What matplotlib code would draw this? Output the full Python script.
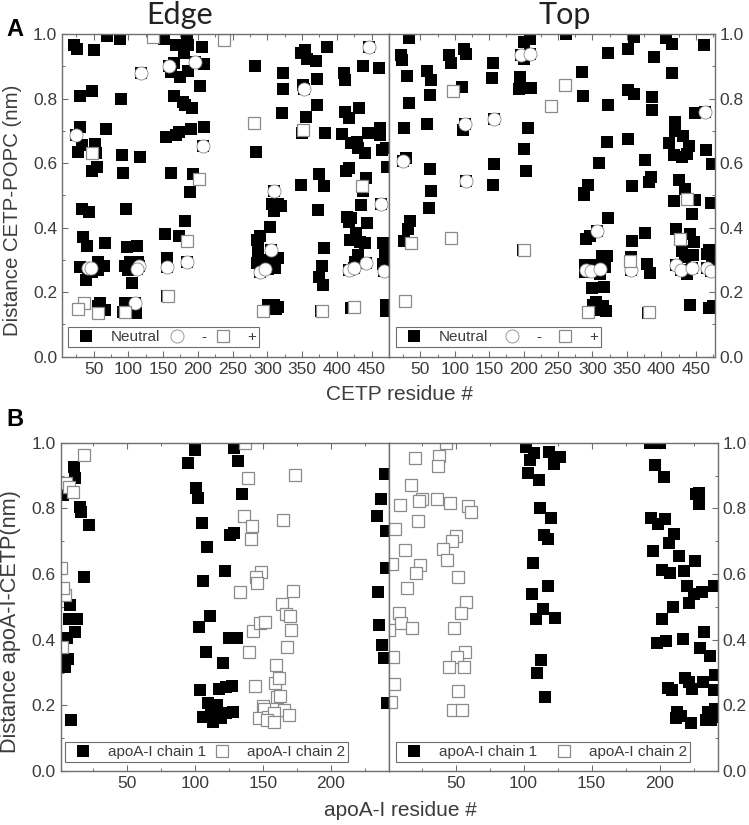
import matplotlib
matplotlib.use('Agg')
import matplotlib.pyplot as plt
from matplotlib.ticker import MultipleLocator, FixedLocator

plt.rcParams['font.family'] = ['Liberation Sans', 'DejaVu Sans']

W, H = 749, 825

# panel A, edge
edge_neutral_x = [22, 26, 51, 69, 88, 151, 168, 184, 186, 180, 206, 209, 165, 162, 174, 186, 203, 166, 178, 181, 192, 190, 209, 173, 169, 154, 161, 193, 189, 181, 173, 153, 156, 155,
                  30, 48, 89, 30, 68, 33, 28, 52, 53, 91, 117, 55, 48, 92, 33, 43, 96, 35, 41, 67, 98, 112, 30, 39, 47, 57, 65, 57, 95, 102, 114, 100, 105, 95, 111, 59, 66, 57,
                  282, 322, 322, 321, 284, 354, 348, 357, 370, 372, 386, 351, 371, 356, 383, 407, 410, 412, 437, 460, 411, 417, 432, 445, 462, 462, 420, 429, 431, 441, 465, 471, 472, 417, 413, 442, 438, 349, 374, 382, 373, 434, 444, 414, 421, 417,
                  428, 419, 433, 441, 467, 469, 469, 466, 431, 426, 381, 379, 375, 380, 420, 377, 471, 471,
                  290, 285, 304, 286, 287, 285, 299, 309, 316, 311, 301, 289, 306, 319, 310, 316, 301, 309, 316, 306, 312, 350, 438, 92]
edge_neutral_y = [.966, .952, .95, .994, .983, .983, .966, .987, .966, .94, .959, .906, .909, .883, .868, .886, .839, .809, .79, .78, .77, .705, .711, .697, .687, .68, .57, .565, .509, .421, .374, .38, .307, .189,
                  .808, .824, .80, .713, .707, .656, .634, .659, .63, .626, .62, .587, .575, .57, .457, .448, .459, .37, .343, .351, .341, .343, .277, .238, .263, .294, .282, .269, .282, .294, .294, .269, .229, .167, .136, .165, .145, .157,
                  .90, .878, .829, .754, .633, .95, .94, .921, .917, .862, .961, .842, .779, .744, .692, .689, .88, .857, .902, .894, .758, .739, .771, .692, .708, .687, .661, .666, .646, .632, .64, .646, .589, .586, .575, .555, .522, .532, .565, .529, .455, .471, .413, .434, .429, .418,
                  .382, .362, .356, .351, .351, .331, .31, .286, .315, .294, .336, .282, .246, .222, .15, .142, .16, .143,
                  .374, .362, .403, .336, .31, .289, .30, .289, .305, .274, .271, .269, .473, .467, .452, .473, .16, .16, .155, .15, .147, .693, .515, .139]
edge_neg_x = [25, 118, 159, 196, 208, 446, 353, 309, 464, 305, 185, 156, 42, 46, 116, 113, 109, 289, 296, 418, 425, 442, 468]
edge_neg_y = [.687, .88, .902, .912, .654, .961, .829, .513, .474, .331, .295, .279, .275, .276, .281, .271, .167, .263, .271, .269, .276, .289, .265]
edge_pos_x = [136, 238, 281, 351, 47, 201, 436, 185, 157, 36, 28, 56, 95, 293, 378, 424]
edge_pos_y = [.99, .981, .725, .702, .632, .55, .529, .358, .188, .165, .149, .134, .139, .142, .142, .153]

# panel A, top
top_neutral_x = [34, 22, 24, 30, 33, 26, 29, 60, 66, 64, 60, 64, 65, 62, 35, 32, 26,
                 91, 94, 113, 116, 111, 112, 155, 154, 157, 155, 199,
                 200, 209, 200, 195, 194, 211, 206, 201, 204,
                 262, 285, 286, 323, 351, 360, 389, 407, 415, 462, 415, 351, 360, 386, 387, 323, 449, 420, 420, 432, 411, 440, 321, 352, 465, 309, 377, 418, 430, 437, 474, 385, 382, 425, 358, 293, 288, 288, 435, 418, 449, 472, 444, 322, 377, 421, 357, 297, 290, 441, 447, 430, 435, 446, 438, 469, 466, 474, 379, 383, 314, 321, 316, 289, 301, 318, 289, 311, 300, 317, 305, 301, 309, 316, 320, 311, 356, 380, 442, 469, 475]
top_neutral_y = [.989, .935, .919, .871, .785, .71, .617, .885, .857, .812, .72, .581, .512, .461, .419, .396, .36,
                 .935, .909, .955, .938, .836, .702, .909, .865, .596, .531, .331,
                 .976, .983, .921, .867, .831, .834, .709, .645, .576,
                 1.0, .881, .807, .94, .955, .992, .93, .987, .969, .966, .878, .828, .813, .806, .763, .78, .756, .728, .699, .683, .663, .652, .664, .675, .64, .601, .611, .626, .619, .629, .596, .557, .541, .547, .528, .531, .5, .507, .52, .484, .487, .477, .443, .431, .384, .396, .36, .373, .364, .381, .355, .327, .308, .314, .257, .331, .317, .303, .288, .26, .311, .312, .293, .283, .283, .277, .262, .257, .212, .215, .171, .161, .151, .158, .141, .145, .308, .136, .159, .151, .156]
top_neg_x = [25, 115, 116, 157, 196, 209, 307, 290, 298, 311, 356, 422, 429, 445, 467, 472, 463]
top_neg_y = [.606, .72, .546, .738, .935, .937, .391, .269, .265, .271, .27, .283, .269, .274, .274, .267, .757]
top_pos_x = [28, 36, 94, 98, 240, 260, 201, 294, 354, 382, 427, 438]
top_pos_y = [.174, .353, .369, .823, .776, .842, .331, .137, .297, .137, .365, .488]

# panel B, edge
b_edge_ch1_x = [11, 12, 3, 15, 16, 22, 18, 8, 7, 13, 12, 6, 6.5, 4, 9,
                95, 100, 129, 132, 101, 102, 135, 105, 129, 126, 109, 122, 106, 111, 103, 125, 131, 108, 121, 104, 118, 123, 127, 110, 116, 106, 113, 112, 119.5, 123, 128, 116,
                240, 237, 234, 241, 241, 235, 236, 238, 239, 241.5]
b_edge_ch1_y = [.927, .893, .84, .805, .79, .749, .59, .506, .463, .463, .424, .404, .341, .316, .155,
                .937, .978, .983, .945, .861, .832, .843, .754, .724, .719, .682, .61, .579, .473, .438, .406, .404, .363, .33, .247, .25, .256, .259, .206, .201, .165, .15, .181, .16, .176, .179, .17,
                .905, .827, .777, .731, .617, .544, .444, .384, .343, .206]
b_edge_ch2_x = [18, 5, 7, 10, 1, 4.5, 3, 2, 139, 174, 136, 142, 141, 165, 149, 145, 146, 133, 172, 164, 167, 170, 171, 143, 148, 152, 168, 140, 160, 144, 159, 162, 160.5, 163, 150, 151, 166, 169, 147, 154, 158, 153, 158, 137]
b_edge_ch2_y = [.964, .876, .866, .851, .617, .536, .556, .379, .891, .901, .778, .745, .706, .766, .607, .591, .572, .545, .548, .508, .477, .473, .428, .427, .45, .453, .379, .362, .323, .26, .267, .282, .226, .228, .198, .189, .186, .171, .16, .165, .176, .155, .15, .998]

# panel B, top
b_top_ch1_x = [102, 108, 119, 127, 122, 105, 103, 111, 112, 120, 115, 118, 107, 118, 106, 114, 109, 123, 113, 110, 116,
               193, 200, 197, 203, 227, 229, 229, 194, 199, 204, 211, 207, 195, 214, 226, 202, 208, 218, 220.5, 231, 225, 240, 221.5, 210, 202, 198, 205, 217, 233, 230, 237, 219, 222, 224, 232, 241, 240, 206, 209.5, 213, 216, 212, 223, 234, 236, 238, 241, 241]
b_top_ch1_y = [.988, .97, .973, .956, .935, .947, .907, .887, .8, .772, .719, .707, .635, .562, .539, .493, .464, .466, .338, .3, .226,
               1.0, 1.0, .931, .894, .844, .848, .813, .772, .752, .767, .721, .696, .671, .655, .641, .611, .604, .609, .562, .544, .539, .564, .512, .5, .464, .391, .396, .401, .422, .376, .351, .284, .272, .25, .272, .292, .247, .252, .247, .179, .169, .162, .145, .155, .181, .155, .189, .165]
b_top_ch2_x = [20, 38, 37, 43, 17, 25, 23, 9, 36, 46, 59, 61, 22, 5.5, 50, 47, 41, 13, 44, 3, 24, 21, 52, 14, 58, 54, 8, 10, 18, 49, 1, 57, 51, 4, 45, 56, 5, 52, 2.5, 48, 55]
b_top_ch2_y = [.952, .958, .929, 1.0, .871, .829, .821, .809, .827, .815, .808, .789, .76, .736, .717, .7, .676, .672, .642, .632, .626, .604, .591, .558, .516, .481, .481, .45, .437, .437, .428, .363, .348, .348, .318, .318, .266, .245, .211, .187, .187]

ink = '#3c3c3c'
frame = '#6e6e6e'
SQ = 8.6


def make_ax(fig, left, right, top, bottom):
    return fig.add_axes([left/W, 1-bottom/H, (right-left)/W, (bottom-top)/H])


def style_ax(ax, xlim, xmaj, xlast, side):
    ax.set_xlim(*xlim)
    ax.set_ylim(0, 1)
    ax.xaxis.set_major_locator(FixedLocator(list(range(xmaj, xlast+1, xmaj))))
    ax.xaxis.set_minor_locator(MultipleLocator(xmaj/2))
    ax.yaxis.set_major_locator(MultipleLocator(0.2))
    ax.yaxis.set_minor_locator(MultipleLocator(0.1))
    ax.tick_params(which='major', direction='in', length=4, width=0.8, color=frame,
                   labelsize=12.5, labelcolor=ink, top=True, pad=3.5)
    ax.tick_params(which='minor', direction='in', length=2.5, width=0.7, color=frame, top=True)
    ax.tick_params(axis='y', which='both', left=(side == 'left'), right=(side == 'right'),
                   labelleft=(side == 'left'), labelright=(side == 'right'))
    for s in ax.spines.values():
        s.set_color(frame)
        s.set_linewidth(1.0)


def draw_charge(ax, nx_, ny_, negx, negy, posx, posy, box):
    ax.plot(nx_, ny_, 's', color='black', ms=SQ, mew=0, label='Neutral')
    # charged residues sit on top of a black square, only the corners show
    ax.plot(negx, negy, 's', color='black', ms=SQ-0.4, mew=0)
    ax.plot(negx, negy, 'o', mfc='white', mec='#8a8a8a', mew=0.6, ms=9.4, label='-')
    ax.plot(posx, posy, 's', mfc='white', mec='#8a8a8a', mew=0.9, ms=SQ-0.4, label='+')
    add_legend(ax, box, 3)


def add_legend(ax, box, ncol):
    x0, x1, y0, y1 = box
    leg = ax.legend(loc='lower left', bbox_to_anchor=(x0/W, 1-y1/H, (x1-x0)/W, (y1-y0)/H),
                    bbox_transform=ax.figure.transFigure, mode='expand', ncol=ncol, borderaxespad=0,
                    fontsize=11, fancybox=False, edgecolor=frame, framealpha=1,
                    borderpad=0.2, handletextpad=0.6, columnspacing=0.5, labelspacing=0.2,
                    handlelength=2, numpoints=1)
    leg.get_frame().set_linewidth(0.8)
    for t in leg.get_texts():
        t.set_color(ink)


fig = plt.figure(figsize=(W/100, H/100), dpi=100)

ax1 = make_ax(fig, 62, 389, 34, 356.7)
style_ax(ax1, (4.5, 475), 50, 450, 'left')
draw_charge(ax1, edge_neutral_x, edge_neutral_y, edge_neg_x, edge_neg_y, edge_pos_x, edge_pos_y, (68, 259, 327, 347))

ax2 = make_ax(fig, 389, 715, 34, 356.7)
style_ax(ax2, (4.5, 478), 50, 450, 'right')
draw_charge(ax2, top_neutral_x, top_neutral_y, top_neg_x, top_neg_y, top_pos_x, top_pos_y, (396, 601, 327, 347))

ax3 = make_ax(fig, 60.5, 389, 442.7, 771)
style_ax(ax3, (1, 243), 50, 200, 'left')
ax3.plot(b_edge_ch1_x, b_edge_ch1_y, 's', color='black', ms=SQ, mew=0, label='apoA-I chain 1')
ax3.plot(b_edge_ch2_x, b_edge_ch2_y, 's', mfc='white', mec='#8a8a8a', mew=0.9, ms=SQ-0.4, label='apoA-I chain 2')
add_legend(ax3, (65, 348, 741, 762), 2)

ax4 = make_ax(fig, 389, 718, 442.7, 771)
style_ax(ax4, (1, 243), 50, 200, 'right')
ax4.plot(b_top_ch1_x, b_top_ch1_y, 's', color='black', ms=SQ, mew=0, label='apoA-I chain 1')
ax4.plot(b_top_ch2_x, b_top_ch2_y, 's', mfc='white', mec='#8a8a8a', mew=0.9, ms=SQ-0.4, label='apoA-I chain 2')
add_legend(ax4, (396, 690, 741, 762), 2)


def label(px, py, s, **kw):
    fig.text(px/W, 1-py/H, s, ha='center', va='center', color=kw.pop('color', ink), **kw)


label(180, 15, 'Edge', fontsize=22, family=['Lato', 'DejaVu Sans'], color='#222222')
label(565, 15, 'Top', fontsize=22, family=['Lato', 'DejaVu Sans'], color='#222222')
label(15, 29, 'A', fontsize=17, fontweight='bold', color='black')
label(15, 419, 'B', fontsize=17, fontweight='bold', color='black')
label(400, 394, 'CETP residue #', fontsize=15)
label(400, 811, 'apoA-I residue #', fontsize=15)
label(13, 210, 'Distance CETP-POPC (nm)', fontsize=14.7, rotation=90)
label(11, 622, 'Distance apoA-I-CETP(nm)', fontsize=15.6, rotation=90)

fig.savefig('out.png', dpi=100)
